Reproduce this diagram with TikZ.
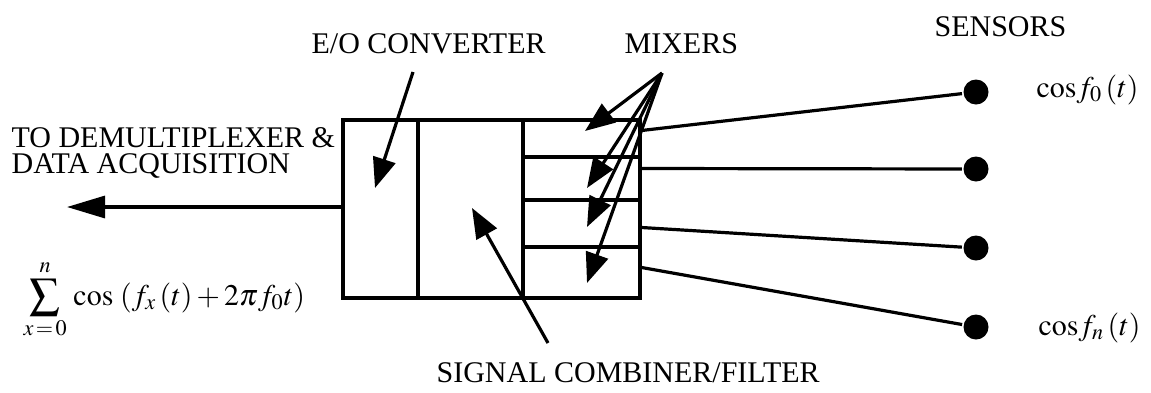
\documentclass[tikz,border=0pt]{standalone}
\usepackage{mathptmx}
\usepackage[no-math]{fontspec}
\setmainfont{Liberation Serif}
\usetikzlibrary{arrows.meta,fit,calc}
\tikzset{
  part/.style={draw, inner sep=0pt},
  ptr/.style={-{Triangle[length=15pt,width=11.5pt]}},
  longptr/.style={-{Triangle[length=19pt,width=11pt]}},
  sensor/.style={circle, fill=black, inner sep=0pt, minimum size=12.5pt},
  lbl/.style={anchor=base west, inner sep=0pt},
}
\begin{document}
\begin{tikzpicture}[x=0.5pt,y=-0.5pt,line width=1.6pt,font=\fontsize{15}{16}\selectfont]
\useasboundingbox (0,0) rectangle (1151,392);
% box sections
\node[part, fit={(343,120) (418,298)}] (eo) {};
\node[part, fit={(418,120) (523,298)}] (comb) {};
\node[part, fit={(523,120) (640,157)}] (m1) {};
\node[part, fit={(523,157) (640,200)}] (m2) {};
\node[part, fit={(523,200) (640,247)}] (m3) {};
\node[part, fit={(523,247) (640,298)}] (m4) {};
% sensors
\node[sensor] (s0) at (976,92) {};
\node[sensor] (s1) at (976,169) {};
\node[sensor] (s2) at (976,248) {};
\node[sensor] (s3) at (976,327) {};
\draw ($(m1.east)+(0,-8)$) -- (s0);
\draw ($(m2.east)+(0,-10)$) -- (s1);
\draw ($(m3.east)+(0,4)$) -- (s2);
\draw ($(m4.east)+(0,-5)$) -- (s3);
% labels
\node[lbl] (eolbl) at (310,53) {E/O CONVERTER};
\node[lbl] (mixlbl) at (623,53) {MIXERS};
\node[lbl] (senslbl) at (933,36) {SENSORS};
\node[lbl] (demux1) at (10,147) {TO DEMULTIPLEXER \&};
\node[lbl] (demux2) at (10,173) {DATA ACQUISITION};
\node[lbl] (comblbl) at (435,382) {SIGNAL COMBINER/FILTER};
\node[lbl] (cos0) at (1035,97) {$\mathrm{cos}f_0\,(t)$};
\node[lbl] (cosn) at (1037,335) {$\mathrm{cos}f_n\,(t)$};
\node[lbl] (sum) at (22,305) {$\displaystyle\sum_{x\,=\,0}^{n}\,\mathrm{cos}\;(f_x\,(t)+2\pi f_0t)$};
% arrows
\coordinate (eostart) at (413,72);
\coordinate (eotip) at (375,188);
\draw[ptr] (eostart) -- (eotip);
\coordinate (mixapex) at (662,73);
\coordinate (t1) at (585,131);
\coordinate (t2) at (587,188);
\coordinate (t3) at (587,227);
\coordinate (t4) at (587,283);
\foreach \t in {t1,t2,t3,t4} \draw[ptr] (mixapex) -- (\t);
\coordinate (combstart) at (548,343);
\coordinate (combtip) at (472,208);
\draw[ptr] (combstart) -- (combtip);
\coordinate (outtip) at (67,207);
\draw[longptr] (eo.west |- outtip) -- (outtip);
\end{tikzpicture}
\end{document}
